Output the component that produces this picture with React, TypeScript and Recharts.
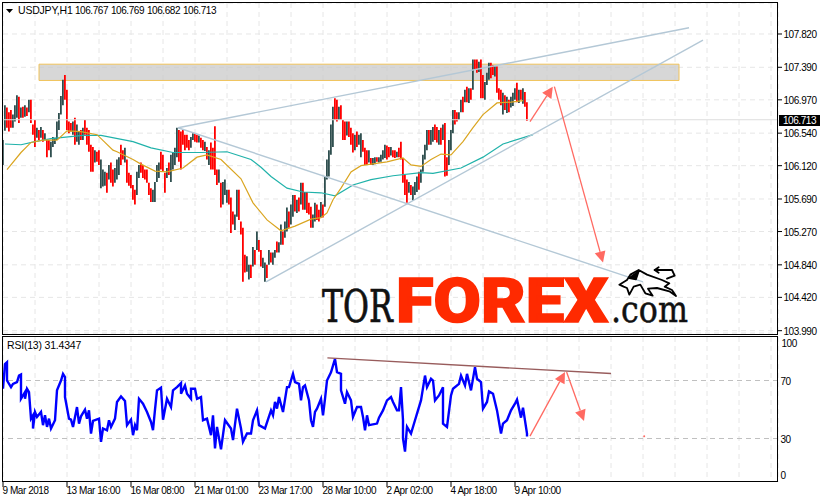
import { ComposedChart, Bar, Cell, Line, XAxis, YAxis, CartesianGrid, ReferenceLine, ReferenceArea, ReferenceDot } from 'recharts'

const BAR_HIGHS = [
  106.45, 106.90, 106.87, 106.81, 106.84, 106.78, 106.90, 107.03, 107.01, 106.87,
  106.88, 106.90, 106.87, 106.97, 106.97, 106.65, 106.71, 106.61, 106.58, 106.62,
  106.58, 106.54, 106.45, 106.45, 106.43, 106.49, 106.48, 106.69, 106.80, 107.02,
  107.23, 107.29, 107.10, 106.69, 106.67, 106.69, 106.74, 106.65, 106.56, 106.58,
  106.61, 106.71, 106.61, 106.58, 106.39, 106.36, 106.32, 106.30, 106.32, 106.20,
  106.07, 106.04, 106.03, 106.13, 106.16, 106.07, 106.09, 106.20, 106.23, 106.39,
  106.32, 106.35, 106.20, 106.03, 106.00, 105.87, 105.81, 106.04, 106.13, 106.16,
  106.13, 106.07, 106.07, 105.90, 105.83, 105.81, 105.91, 106.13, 106.16, 106.30,
  106.26, 106.03, 106.09, 106.16, 106.26, 106.29, 106.35, 106.61, 106.58, 106.56,
  106.58, 106.52, 106.52, 106.45, 106.49, 106.54, 106.54, 106.52, 106.51, 106.48,
  106.45, 106.43, 106.36, 106.32, 106.42, 106.35, 106.63, 106.07, 106.07, 105.90,
  105.91, 105.94, 105.81, 105.81, 105.71, 105.53, 105.49, 105.81, 105.81, 105.40,
  105.32, 104.97, 104.95, 104.84, 104.84, 105.07, 105.03, 105.27, 105.16, 105.03,
  104.93, 104.87, 104.84, 105.03, 105.00, 105.00, 105.03, 105.14, 105.13, 105.36,
  105.27, 105.40, 105.58, 105.53, 105.62, 105.74, 105.74, 105.68, 105.71, 105.90,
  105.90, 105.78, 105.78, 105.64, 105.59, 105.49, 105.64, 105.62, 105.55, 105.65,
  105.62, 105.98, 106.20, 106.32, 106.65, 106.88, 106.99, 106.97, 106.88, 106.90,
  106.71, 106.69, 106.69, 106.69, 106.61, 106.54, 106.52, 106.56, 106.52, 106.54,
  106.45, 106.35, 106.32, 106.32, 106.22, 106.22, 106.23, 106.23, 106.23, 106.26,
  106.32, 106.39, 106.38, 106.36, 106.36, 106.32, 106.32, 106.30, 106.35, 106.43,
  106.22, 106.00, 105.94, 105.91, 105.87, 105.85, 105.91, 105.98, 106.04, 106.07,
  106.26, 106.39, 106.58, 106.58, 106.58, 106.62, 106.65, 106.62, 106.58, 106.61,
  106.65, 106.67, 106.23, 106.45, 106.58, 106.84, 106.84, 106.81, 106.81, 106.97,
  107.01, 107.10, 107.14, 107.12, 107.12, 107.49, 107.49, 107.49, 107.46, 107.49,
  107.29, 107.20, 107.32, 107.45, 107.45, 107.42, 107.40, 107.40, 107.12, 107.10,
  107.06, 107.03, 107.01, 106.97, 107.01, 107.06, 107.12, 107.19, 107.10, 107.10,
  107.12, 107.07, 106.94,
]

const BAR_LOWS = [
  106.13, 106.57, 106.61, 106.56, 106.61, 106.61, 106.69, 106.74, 106.67, 106.74,
  106.74, 106.75, 106.76, 106.81, 106.67, 106.52, 106.36, 106.48, 106.45, 106.48,
  106.43, 106.45, 106.23, 106.32, 106.23, 106.36, 106.40, 106.45, 106.58, 106.78,
  106.90, 106.97, 106.58, 106.54, 106.56, 106.52, 106.39, 106.43, 106.39, 106.45,
  106.45, 106.52, 106.39, 106.30, 106.04, 106.04, 106.16, 106.17, 106.13, 105.83,
  105.85, 105.86, 105.77, 105.94, 105.90, 105.85, 105.90, 105.94, 106.00, 106.13,
  106.20, 106.16, 105.90, 105.86, 105.83, 105.68, 105.62, 105.74, 105.96, 106.03,
  105.96, 105.94, 105.90, 105.74, 105.65, 105.65, 105.65, 105.91, 105.96, 106.07,
  106.04, 105.77, 105.96, 106.00, 105.91, 106.07, 106.13, 106.23, 106.17, 106.07,
  106.39, 106.32, 106.35, 106.32, 106.35, 106.45, 106.43, 106.42, 106.42, 106.35,
  106.32, 106.31, 106.20, 106.13, 106.07, 106.07, 106.00, 105.87, 105.90, 105.58,
  105.62, 105.74, 105.64, 105.62, 105.25, 105.36, 105.29, 105.46, 105.42, 105.23,
  104.62, 104.74, 104.75, 104.65, 104.67, 104.82, 104.84, 105.03, 105.01, 104.82,
  104.80, 104.62, 104.67, 104.84, 104.87, 104.84, 104.93, 105.00, 105.00, 105.10,
  105.10, 105.19, 105.27, 105.32, 105.36, 105.46, 105.53, 105.51, 105.53, 105.62,
  105.55, 105.55, 105.51, 105.49, 105.32, 105.32, 105.40, 105.42, 105.40, 105.45,
  105.45, 105.59, 105.94, 105.98, 106.26, 106.36, 106.71, 106.69, 106.71, 106.71,
  106.45, 106.45, 106.51, 106.49, 106.39, 106.29, 106.32, 106.36, 106.39, 106.23,
  106.30, 106.13, 106.13, 106.16, 106.13, 106.13, 106.14, 106.17, 106.16, 106.17,
  106.20, 106.22, 106.20, 106.23, 106.25, 106.23, 106.22, 106.23, 106.23, 106.20,
  105.90, 105.74, 105.64, 105.77, 105.74, 105.67, 105.74, 105.78, 105.81, 105.90,
  106.04, 106.20, 106.32, 106.39, 106.39, 106.43, 106.45, 106.42, 106.39, 106.39,
  106.45, 105.98, 105.99, 106.13, 106.32, 106.54, 106.65, 106.69, 106.71, 106.81,
  106.81, 106.94, 106.94, 106.93, 106.97, 107.10, 107.36, 107.32, 107.33, 106.99,
  106.99, 106.97, 107.16, 107.23, 107.25, 107.29, 107.27, 107.06, 106.97, 106.90,
  106.78, 106.84, 106.80, 106.81, 106.87, 106.89, 106.97, 106.94, 106.93, 106.97,
  106.92, 106.88, 106.70,
]

// U = up candle, D = down candle
const BAR_DIRS = (
  'UUDDDUUUDU' + 'DUDUDDDUDU' + 'DUDDUUUUUU' + 'UDDDDUDUUD' + 'UDDDDDUDDU' +
  'UUDUDDUUUD' + 'DUDDDDDUUD' + 'DDDDDUUUUD' + 'DDUDUUUUDD' + 'DDDDUUDDUD' +
  'DUDUDDDDUD' + 'UUUDDDUUDD' + 'DDUUDUDUDD' + 'UUDUDUUDUU' + 'DUUDUUDUDU' +
  'DUDDDUUDDU' + 'DUUUUUDDUD' + 'DDUDDDUDUU' + 'DDDUDUUDUU' + 'UUDDUDDUDD' +
  'DDDUDUUUDU' + 'UUUDUUDDUD' + 'UDDUUUDDUU' + 'DUDUDUDDUD' + 'DUUUDDUDDD' +
  'UDUDUUUDUD' + 'UDD'
).split('')

const TEAL_BARS = [1, 9, 16, 24, 40, 49, 65, 74, 85, 99, 112, 124, 129, 134, 142, 150, 159, 166, 175, 184, 195, 209, 215, 229, 240, 250, 265]
const TEAL_VALUES = [106.40, 106.39, 106.43, 106.47, 106.51, 106.51, 106.43, 106.35, 106.29, 106.29, 106.30, 106.20, 106.10, 105.98, 105.83, 105.78, 105.77, 105.73, 105.87, 105.94, 105.99, 106.03, 106.02, 106.09, 106.23, 106.40, 106.52]

const ORANGE_BARS = [2, 9, 14, 20, 27, 32, 39, 47, 55, 57, 65, 69, 76, 82, 90, 97, 102, 109, 119, 125, 132, 139, 146, 154, 159, 162, 165, 169, 174, 179, 184, 192, 200, 204, 209, 214, 219, 224, 230, 235, 240, 247, 254, 260]
const ORANGE_VALUES = [106.07, 106.29, 106.42, 106.45, 106.45, 106.57, 106.56, 106.52, 106.32, 106.30, 106.20, 106.14, 106.05, 106.04, 106.09, 106.23, 106.26, 106.20, 105.95, 105.64, 105.42, 105.28, 105.34, 105.43, 105.45, 105.51, 105.68, 105.83, 106.04, 106.12, 106.14, 106.17, 106.22, 106.13, 106.11, 106.20, 106.27, 106.26, 106.43, 106.61, 106.78, 106.93, 106.94, 106.96]

const RSI_BARS = [
  0, 1, 2, 2, 4, 5, 7, 8, 9, 9, 11, 11, 12, 13, 14, 15, 15, 16, 17, 19, 20, 21, 22, 23, 24, 26, 27, 29, 30, 31, 31, 33, 34, 35, 37, 38, 39, 41, 42, 43, 44, 45, 48, 49, 50, 52, 53, 54, 56, 57, 59, 61, 62, 64, 65, 66, 67, 68, 70, 72, 74, 75, 76, 77, 79, 80, 82, 84, 85, 87, 89, 89, 91, 92, 94, 94, 96, 97, 99, 100, 102, 104, 105, 106, 107, 109, 111, 114, 115, 117, 119, 120, 122, 124, 125, 127, 128, 131,
  134, 135, 136, 137, 138, 140, 142, 143, 145, 146, 148, 149, 150, 151, 153, 154, 155, 156, 157, 159, 160, 161, 162, 164, 166, 167, 169, 169, 171, 172, 174, 175, 177, 179, 180, 181, 182, 183, 187, 188, 190, 192, 194, 195, 197, 198, 199, 200, 200, 201, 202, 204, 206, 207, 209, 211, 212, 214, 215, 216, 218, 220, 220, 222, 224, 225, 228, 229, 231, 232, 234, 236, 237, 239, 240, 242, 243, 245, 247, 249, 250, 252, 254, 256, 257, 259, 260, 262, 262,
]
const RSI_VALUES = [
  64.3, 81.4, 82.6, 70, 65.4, 67.7, 68.9, 73.4, 74.1, 57.4, 62, 57.4, 64.3, 62, 43.7, 46, 36.9, 48.3, 44.9, 48.3, 39.2, 46, 38, 43.7, 36.9, 42.6, 63.2, 70, 74.6, 72.3, 58.6, 43.7, 43, 38, 51.7, 40.3, 45.3, 49.9, 43.7, 49.4, 33.4, 42.1, 43.7, 27.7, 36.9, 35.7, 42.6, 38, 43.7, 55.2, 59, 55.8, 39.2, 43, 32.3, 39.2, 35.7, 57.4, 54, 48.3, 41.4, 35.7, 49.9, 63.2, 65, 43, 57.4, 51.7, 63.2, 65.4, 68.2, 60.9, 66.6, 60.9, 57.4, 64.3, 64.3, 57.4, 58.6, 42.6, 43.7, 32.3, 46, 23.1, 38, 22.5, 42.6, 36.9, 28.9, 50.6, 36.9, 27.7, 33.4, 33.4, 42.6, 49.4, 39.2, 36.9,
  49.4, 46, 55.2, 50.6, 58.6, 48.3, 65.4, 65.4, 74.6, 68.9, 67.7, 56.3, 65.4, 66.6, 56.3, 42.6, 38, 48.3, 50.6, 57.4, 46, 57.4, 70, 75.7, 84.9, 75.7, 74.6, 63.2, 54, 62, 56.3, 44.9, 51.7, 51.7, 44.9, 35.7, 46, 39.2, 40.3, 44.4, 49.4, 56.3, 58.6, 55.2, 49.4, 49.4, 65.4, 42.6, 30, 20.9, 38, 33.4, 42.6, 47.2, 56.3, 73.4, 65.4, 71.2, 70, 56.3, 59.7, 65.4, 40.3, 38, 59.7, 64.3, 67.7, 73.4, 66.6, 74.6, 63.2, 79.2, 71.2, 68.9, 50.6, 55.2, 62.5, 60.9, 49.4, 33.4, 40.3, 42.6, 49.4, 54, 56.8, 44.4, 51.3, 33.4, 31.43,
]

const PRICE_TICKS = [107.82, 107.39, 106.97, 106.54, 106.12, 105.69, 105.27, 104.84, 104.42, 103.99]
const RSI_TICKS = [100, 70, 30, 0]
const TIME_LABELS = ['9 Mar 2018', '13 Mar 16:00', '16 Mar 08:00', '21 Mar 01:00', '23 Mar 17:00', '28 Mar 10:00', '2 Apr 02:00', '4 Apr 18:00', '9 Apr 10:00']
const GRID_BARS = [0, 16, 32, 48, 64, 80, 96, 112, 128, 144, 160, 176, 192, 208, 224, 240, 256, 272, 288, 304, 320, 336, 352, 368, 384]
const LAST_PRICE = 106.713

const candles = BAR_HIGHS.map((high, i) => ({ bar: i, range: [BAR_LOWS[i], high], dir: BAR_DIRS[i] }))
const tealLine = TEAL_BARS.map((bar, i) => ({ bar, value: TEAL_VALUES[i] }))
const orangeLine = ORANGE_BARS.map((bar, i) => ({ bar, value: ORANGE_VALUES[i] }))
const rsiLine = RSI_BARS.map((bar, i) => ({ bar, value: RSI_VALUES[i] }))

const FONT = '"Liberation Sans", Arial, sans-serif'
const textStyle = { fontFamily: FONT, fontSize: 10, letterSpacing: -0.45, fill: '#000' }
const TREND = '#b4c8d6'
const ARROW = '#ff6a62'

function ArrowLine({ x1, y1, x2, y2 }: any) {
  const len = Math.hypot(x2 - x1, y2 - y1)
  const ux = (x2 - x1) / len
  const uy = (y2 - y1) / len
  const bx = x2 - ux * 11
  const by = y2 - uy * 11
  const head = `${x2},${y2} ${bx - uy * 5.5},${by + ux * 5.5} ${bx + uy * 5.5},${by - ux * 5.5}`
  return (
    <g>
      <line x1={x1} y1={y1} x2={bx} y2={by} stroke={ARROW} strokeWidth={1.3} />
      <polygon points={head} fill={ARROW} />
    </g>
  )
}

function PriceTick({ x, y, payload }: any) {
  return (
    <g>
      <line x1={x} x2={x + 4} y1={y} y2={y} stroke="#000" />
      <text x={x + 5.5} y={y + 4} style={textStyle}>{payload.value.toFixed(3)}</text>
    </g>
  )
}

function RsiTick({ x, y, payload }: any) {
  const shift = payload.value === 100 ? 6 : payload.value === 0 ? -7 : 0
  return (
    <text x={x + (payload.value === 100 ? 3.5 : 2.5)} y={y + shift + 4} style={textStyle}>{payload.value}</text>
  )
}

function TimeTick({ x, y, payload }: any) {
  const label = TIME_LABELS[payload.value / 32]
  if (!label) return <g />
  return (
    <g>
      <line x1={x} x2={x} y1={y} y2={y + 5} stroke="#000" />
      <text x={x - 0.5} y={y + 12} style={textStyle}>{label}</text>
    </g>
  )
}

function Overlay() {
  const t = { ...textStyle, fontSize: 10.5, letterSpacing: -0.2 }
  return (
    <svg width={820} height={502} style={{ position: 'absolute', left: 0, top: 0, pointerEvents: 'none' }}>
      <rect x={2.5} y={2.5} width={775} height={332} fill="none" stroke="#000" />
      <rect x={2.5} y={336.5} width={775} height={145} fill="none" stroke="#000" />
      <polygon points="6,9 13,9 9.5,13" fill="#000" />
      <text x={18} y={14} style={t}>USDJPY,H1</text>
      <text x={75} y={14} style={textStyle}>106.767</text>
      <text x={111} y={14} style={textStyle}>106.769</text>
      <text x={147} y={14} style={textStyle}>106.682</text>
      <text x={183} y={14} style={textStyle}>106.713</text>
      <text x={7} y={349} style={t}>RSI(13) 31.4347</text>

      <rect x={779} y={115} width={41} height={11} fill="#000" />
      <text x={783} y={124} style={{ ...textStyle, fill: '#fff' }}>106.713</text>

      <text transform="translate(322 322) scale(0.72 1)" fontFamily="DejaVu Serif" fontSize={44} fill="#111" stroke="#111" strokeWidth={0.7}>TOR</text>
      <text x={396} y={322} fontFamily="Roboto" fontWeight={900} fontSize={62} textLength={212} lengthAdjust="spacingAndGlyphs" fill="#ff2a00" stroke="#ff2a00" strokeWidth={1.5}>FOREX</text>
      <text x={611} y={322} fontFamily="DejaVu Serif" fontSize={37} textLength={77} lengthAdjust="spacingAndGlyphs" fill="#111" stroke="#111" strokeWidth={0.5}>.com</text>

      <g transform="translate(612 264) scale(0.3333)" fill="none" stroke="#000" strokeWidth={5.5} strokeLinejoin="round" strokeLinecap="round">
        <path d="M22 62 L45 48 L55 32 L80 18 L105 32 L150 48 L172 58 L158 68 L180 78 L192 96 L172 82 L135 72 L108 74 L122 95 L100 88 L85 62 L65 68 L52 92 L45 72 L35 68 Z" />
        <path d="M52 42 L80 22 L72 46 Z" fill="#000" />
        <path d="M128 18 L180 18 L188 35 L165 44" />
        <path d="M128 18 L140 10 M128 18 L140 26" />
      </g>
    </svg>
  )
}

export default function App() {
  return (
    <div style={{ position: 'fixed', left: 0, top: 0, width: 820, height: 502, background: '#fff', overflow: 'hidden' }}>
      <div style={{ position: 'absolute', left: 0, top: 0 }}>
        <ComposedChart width={820} height={338} margin={{ top: 3, right: 0, left: 3, bottom: 5 }} data={candles}>
          <CartesianGrid stroke="#e6e6e6" strokeDasharray="5 4" />
          <XAxis hide type="number" dataKey="bar" domain={[0, 387.5]} ticks={GRID_BARS} interval={0} allowDataOverflow />
          <YAxis orientation="right" width={42} domain={[103.96, 108.22]} ticks={PRICE_TICKS} interval={0} axisLine={false} tickLine={false} tickSize={0} tickMargin={0} tick={PriceTick} allowDataOverflow />
          <ReferenceLine y={LAST_PRICE} stroke="#dedede" strokeWidth={1} />
          <Bar dataKey="range" barSize={2} isAnimationActive={false}>
            {candles.map((c) => (
              <Cell key={c.bar} fill={c.dir === 'U' ? '#2f4f4f' : '#ff0000'} />
            ))}
          </Bar>
          <Line data={tealLine} dataKey="value" stroke="#20b2aa" strokeWidth={1.2} dot={false} isAnimationActive={false} />
          <Line data={orangeLine} dataKey="value" stroke="#daa520" strokeWidth={1.2} dot={false} isAnimationActive={false} />
          <ReferenceArea x1={18} x2={338} y1={107.22} y2={107.43} fill="#c8c8c8" fillOpacity={0.72} stroke="#f0c35a" strokeWidth={1} />
          <ReferenceLine segment={[{ x: 87.5, y: 106.61 }, { x: 343, y: 107.9 }]} stroke={TREND} strokeWidth={1.4} />
          <ReferenceLine segment={[{ x: 131.5, y: 104.62 }, { x: 350, y: 107.74 }]} stroke={TREND} strokeWidth={1.4} />
          <ReferenceLine segment={[{ x: 87.5, y: 106.61 }, { x: 320, y: 104.62 }]} stroke={TREND} strokeWidth={1.4} />
          <ReferenceLine segment={[{ x: 263.5, y: 106.69 }, { x: 274.9, y: 107.14 }]} shape={ArrowLine} />
          <ReferenceLine segment={[{ x: 275.7, y: 107.14 }, { x: 300, y: 104.87 }]} shape={ArrowLine} />
        </ComposedChart>
      </div>
      <div style={{ position: 'absolute', left: 0, top: 337 }}>
        <ComposedChart width={820} height={165} margin={{ top: 0, right: 0, left: 3, bottom: 0 }} data={rsiLine}>
          <CartesianGrid stroke="#e6e6e6" strokeDasharray="5 4" horizontal={false} />
          <XAxis type="number" dataKey="bar" height={20} domain={[0, 387.5]} ticks={GRID_BARS} interval={0} axisLine={false} tickLine={false} tickSize={0} tickMargin={0} tick={TimeTick} allowDataOverflow />
          <YAxis orientation="right" width={42} domain={[0, 100]} ticks={RSI_TICKS} interval={0} axisLine={false} tickLine={false} tickSize={0} tickMargin={0} tick={RsiTick} />
          <ReferenceLine y={70} stroke="#c0c0c0" strokeDasharray="5 4" />
          <ReferenceLine y={30} stroke="#c0c0c0" strokeDasharray="5 4" />
          <Line dataKey="value" stroke="#0000ff" strokeWidth={2.4} dot={false} isAnimationActive={false} />
          <ReferenceLine segment={[{ x: 162.2, y: 85.6 }, { x: 304, y: 74.8 }]} stroke="#985c5c" strokeWidth={1.4} />
          <ReferenceLine segment={[{ x: 263.5, y: 31.6 }, { x: 281, y: 75.9 }]} shape={ArrowLine} />
          <ReferenceLine segment={[{ x: 281.8, y: 75.9 }, { x: 290.5, y: 42.1 }]} shape={ArrowLine} />
          <ReferenceDot x={320.6} y={31.6} r={1} fill={ARROW} stroke="none" />
        </ComposedChart>
      </div>
      <Overlay />
    </div>
  )
}
